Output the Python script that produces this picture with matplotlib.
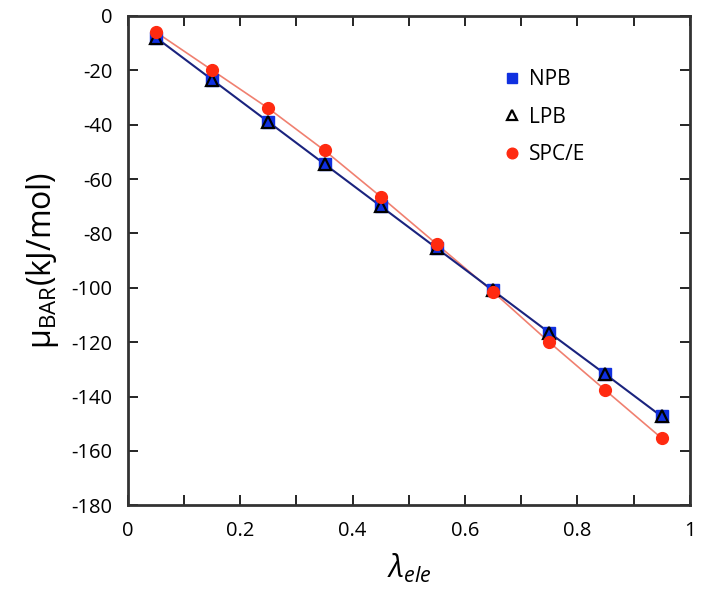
import matplotlib
matplotlib.use("Agg")
import matplotlib.pyplot as plt
from matplotlib.ticker import MultipleLocator

plt.rcParams['font.family'] = ['Open Sans', 'DejaVu Sans']
plt.rcParams['mathtext.fontset'] = 'custom'
plt.rcParams['mathtext.rm'] = 'Open Sans'
plt.rcParams['mathtext.it'] = 'Open Sans:italic'
plt.rcParams['axes.unicode_minus'] = False

# lambda values and chemical potentials (kJ/mol)
lam = [0.05, 0.15, 0.25, 0.35, 0.45, 0.55, 0.65, 0.75, 0.85, 0.95]
npb = [-8.0, -23.5, -39.0, -54.5, -70.0, -85.5, -101.0, -116.5, -131.8, -147.3]
lpb = [-8.0, -23.5, -39.0, -54.5, -70.0, -85.5, -101.0, -116.5, -131.8, -147.3]
spce = [-6.0, -20.0, -34.0, -49.5, -66.5, -84.0, -101.5, -120.0, -137.7, -155.3]

fig = plt.figure(figsize=(7.11, 6.11), dpi=100)
ax = fig.add_axes([0.18, 0.173, 0.79, 0.801])

ax.plot(lam, spce, color='#f08070', lw=1.2, zorder=2)
ax.plot(lam, npb, color='#1a237e', lw=1.5, zorder=2)
ax.plot(lam, npb, 's', color='#1030e0', ms=8, ls='none', label='NPB', zorder=3)
ax.plot(lam, lpb, '^', mfc='none', mec='black', mew=1.6, ms=8, ls='none', label='LPB', zorder=4)
ax.plot(lam, spce, 'o', color='#ff2a10', ms=8.5, ls='none', label='SPC/E', zorder=5)

ax.set_xlim(0, 1)
ax.set_ylim(-180, 0)
ax.xaxis.set_major_locator(MultipleLocator(0.2))
ax.xaxis.set_minor_locator(MultipleLocator(0.1))
ax.yaxis.set_major_locator(MultipleLocator(20))
ax.xaxis.set_major_formatter(plt.FuncFormatter(lambda v, p: '%g' % round(v, 2)))
ax.tick_params(which='both', direction='in', top=True, right=True, labelsize=14.5, pad=11)
ax.tick_params(which='major', length=7, width=1.2)
ax.tick_params(which='minor', length=7, width=1.2)
for s in ax.spines.values():
    s.set_linewidth(2)
    s.set_color('#333333')

ax.set_xlabel(r'$\lambda_{ele}$', fontsize=22, labelpad=8)
ax.set_ylabel('μ$_{\\mathrm{BAR}}$(kJ/mol)', fontsize=23, labelpad=8)

ax.legend(loc='upper left', bbox_to_anchor=(0.64, 0.93), frameon=False, fontsize=15,
          handlelength=0.6, handletextpad=0.5, labelspacing=0.8, markerscale=0.9)

fig.savefig('out.png', dpi=100)
